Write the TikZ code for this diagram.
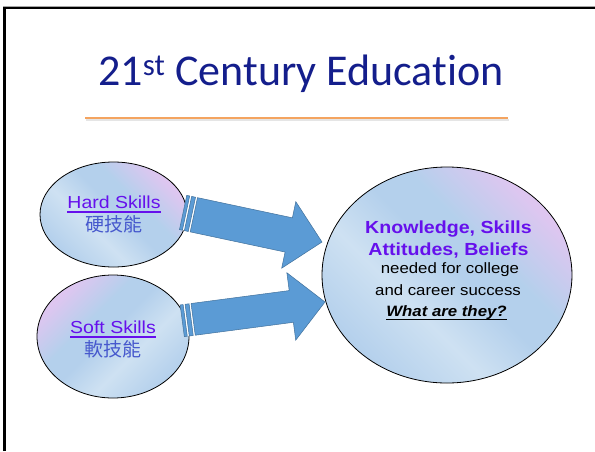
\documentclass[tikz,border=0pt]{standalone}
\usepackage{fontspec}
\setmainfont{Liberation Sans}
\newfontfamily\carlito[Ligatures=NoCommon]{Carlito}
\newfontfamily\arialw[FakeStretch=1.12]{Liberation Sans}
\newfontfamily\cjk{Noto Sans CJK TC}
\usetikzlibrary{shapes.geometric}
\definecolor{ttl}{RGB}{20,30,140}
\definecolor{orng}{RGB}{244,164,96}
\definecolor{purp}{RGB}{102,16,236}
\definecolor{cjkblue}{RGB}{70,88,205}
\definecolor{ebl}{RGB}{180,208,236}
\definecolor{elt}{RGB}{206,225,242}
\definecolor{elv}{RGB}{222,198,240}
\definecolor{arrfill}{RGB}{91,155,213}
\definecolor{arrline}{RGB}{65,113,156}
\pgfdeclarehorizontalshading{ellsh}{100bp}{color(0bp)=(ebl); color(25bp)=(ebl); color(40bp)=(elt); color(52bp)=(ebl); color(60bp)=(ebl); color(74bp)=(elv); color(100bp)=(elv)}
\newsavebox\ulb
\newcommand\myul[3]{\sbox\ulb{#3}\rlap{\rule[-#1]{\wd\ulb}{#2}}\usebox\ulb}
\tikzset{
  skill/.style={ellipse, draw=black, line width=0.8pt, inner sep=0, shading=ellsh},
  arrowsty/.style={fill=arrfill, draw=arrline, line width=0.5pt, line join=miter},
  lbl/.style={inner sep=0, anchor=base},
}
\newcommand\stripedarrow[6]{%
\begin{scope}[shift={(#1)}, rotate=#2]
 \fill[white] (-#3,-#4) rectangle (-#3+11,#4);
 \filldraw[arrowsty] (-#3,-#4) rectangle (-#3+3,#4);
 \filldraw[arrowsty] (-#3+5,-#4) rectangle (-#3+9,#4);
 \filldraw[arrowsty] (-#3+11,-#4) -- (-#6,-#4) -- (-#6,-#5) -- (0,0) -- (-#6,#5) -- (-#6,#4) -- (-#3+11,#4) -- cycle;
\end{scope}}
\begin{document}
\begin{tikzpicture}[x=1pt,y=-1pt]
\useasboundingbox (0,0) rectangle (595,451);
\fill[white] (0,0) rectangle (595,451);
% frame
\draw[gray!70, line width=0.9pt] (3,6.2) -- (595,6.2);
\draw[black, line width=2.4pt, line join=miter] (4.5,451) -- (4.5,8) -- (595,8);
% title
\node[lbl, text=ttl, font=\carlito\fontsize{44}{52}\selectfont] (title) at (301,85) {21\textsuperscript{st} Century Education};
\draw[gray!20, line width=1.2pt] (86,120) -- (509,120);
\draw[orng, line width=1.8pt] (85,118) -- (508,118);
% ellipses
\node[skill, minimum width=147, minimum height=105, shading angle=45] (hard) at (113.5,214.5) {};
\node[skill, minimum width=152, minimum height=123, shading angle=135] (soft) at (113,336.5) {};
\node[skill, minimum width=250, minimum height=216, shading angle=45] (goal) at (447,275) {};
% arrows
\coordinate (tipA) at (322,242);
\coordinate (tipB) at (325,302);
\stripedarrow{tipA}{-12}{142}{17.5}{34}{34}
\stripedarrow{tipB}{7.5}{144}{16}{34}{34}
% texts
\node[lbl, text=purp, font=\arialw\fontsize{17.4}{20}\selectfont] (hardt) at (114,208) {\myul{4.7pt}{1.4pt}{Hard Skills}};
\node[inner sep=0, text=cjkblue, font=\cjk\fontsize{19}{22}\selectfont] (hardc) at (114,224.5) {硬技能};
\node[lbl, text=purp, font=\arialw\fontsize{17.4}{20}\selectfont] (softt) at (113,333) {\myul{4.7pt}{1.4pt}{Soft Skills}};
\node[inner sep=0, text=cjkblue, font=\cjk\fontsize{19}{22}\selectfont] (softc) at (112.5,349.5) {軟技能};
\node[lbl, text=purp, font=\arialw\bfseries\fontsize{17.5}{20}\selectfont] (k1) at (448.5,233) {Knowledge, Skills};
\node[lbl, text=purp, font=\arialw\bfseries\fontsize{17.5}{20}\selectfont] (k2) at (448.5,255) {Attitudes, Beliefs};
\node[lbl, text=black, font=\arialw\fontsize{15}{18}\selectfont] (k3) at (450,273.3) {needed for college};
\node[lbl, text=black, font=\arialw\fontsize{15}{18}\selectfont] (k4) at (448,295) {and career success};
\node[lbl, text=black, font=\arialw\bfseries\itshape\fontsize{15}{18}\selectfont] (k5) at (446.5,316) {\myul{3.8pt}{1.3pt}{What are they?}};
\end{tikzpicture}
\end{document}
